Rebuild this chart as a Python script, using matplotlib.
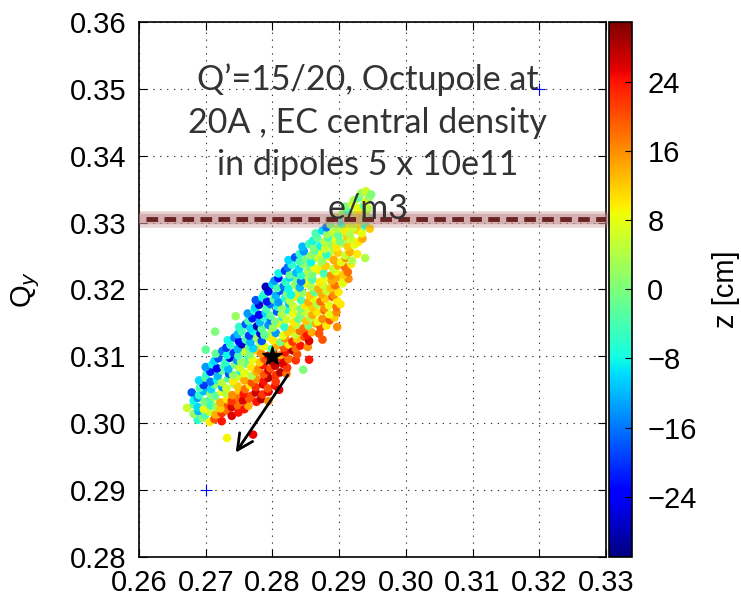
import matplotlib
matplotlib.use("Agg")
import matplotlib.pyplot as plt

# ---------------------------------------------------------------
# Tune footprint: particle tunes (Qx, Qy) coloured by longitudinal
# position z [cm]
# ---------------------------------------------------------------
qx = [
    # Qy ~ 0.3005
    0.2688, 0.2696, 0.2706, 0.2713, 0.2724,
    # Qy ~ 0.3015
    0.2682, 0.2689, 0.2699, 0.2706, 0.2715, 0.2724, 0.2732, 0.2739, 0.2749,
    # Qy ~ 0.3025
    0.2672, 0.2682, 0.2688, 0.2697, 0.2707, 0.2715, 0.2722, 0.2732, 0.2739, 0.2748, 0.2758, 0.2764,
    # Qy ~ 0.3035
    0.2682, 0.2688, 0.2698, 0.2707, 0.2713, 0.2722, 0.2732, 0.2739, 0.2749, 0.2756, 0.2765, 0.2776, 0.2783, 0.2794,
    # Qy ~ 0.3045
    0.2679, 0.2690, 0.2697, 0.2707, 0.2714, 0.2724, 0.2731, 0.2740, 0.2750, 0.2757, 0.2768, 0.2775, 0.2785, 0.2794,
    # Qy ~ 0.3055
    0.2691, 0.2697, 0.2708, 0.2714, 0.2725, 0.2731, 0.2742, 0.2748, 0.2759, 0.2766, 0.2775, 0.2786, 0.2793, 0.2804,
    # Qy ~ 0.3065
    0.2690, 0.2700, 0.2707, 0.2717, 0.2724, 0.2734, 0.2741, 0.2751, 0.2758, 0.2769, 0.2776, 0.2787, 0.2794, 0.2805,
    # Qy ~ 0.3075
    0.2701, 0.2707, 0.2718, 0.2724, 0.2735, 0.2741, 0.2752, 0.2758, 0.2769, 0.2776, 0.2787, 0.2794, 0.2805, 0.2812, 0.2821,
    # Qy ~ 0.3085
    0.2700, 0.2710, 0.2717, 0.2727, 0.2734, 0.2744, 0.2751, 0.2761, 0.2768, 0.2779, 0.2786, 0.2797, 0.2804, 0.2815, 0.2822,
    # Qy ~ 0.3095
    0.2713, 0.2719, 0.2730, 0.2736, 0.2747, 0.2753, 0.2764, 0.2770, 0.2781, 0.2788, 0.2799, 0.2806, 0.2817, 0.2824, 0.2835,
    # Qy ~ 0.3105
    0.2715, 0.2725, 0.2732, 0.2742, 0.2749, 0.2759, 0.2766, 0.2776, 0.2783, 0.2794, 0.2801, 0.2812, 0.2819, 0.2830, 0.2837,
    # Qy ~ 0.3115
    0.2731, 0.2737, 0.2748, 0.2754, 0.2765, 0.2771, 0.2782, 0.2788, 0.2799, 0.2806, 0.2817, 0.2824, 0.2835, 0.2842, 0.2853,
    # Qy ~ 0.3125
    0.2733, 0.2743, 0.2750, 0.2760, 0.2767, 0.2777, 0.2784, 0.2794, 0.2801, 0.2812, 0.2819, 0.2830, 0.2837, 0.2848, 0.2855,
    # Qy ~ 0.3135
    0.2748, 0.2754, 0.2765, 0.2771, 0.2782, 0.2788, 0.2799, 0.2805, 0.2816, 0.2823, 0.2834, 0.2841, 0.2852, 0.2859, 0.2870,
    # Qy ~ 0.3145
    0.2750, 0.2760, 0.2767, 0.2777, 0.2784, 0.2794, 0.2801, 0.2811, 0.2818, 0.2829, 0.2836, 0.2847, 0.2854, 0.2865, 0.2872, 0.2881,
    # Qy ~ 0.3155
    0.2764, 0.2770, 0.2781, 0.2787, 0.2798, 0.2804, 0.2815, 0.2821, 0.2832, 0.2839, 0.2850, 0.2857, 0.2868, 0.2875, 0.2886, 0.2893,
    # Qy ~ 0.3165
    0.2763, 0.2773, 0.2780, 0.2790, 0.2797, 0.2807, 0.2814, 0.2824, 0.2831, 0.2842, 0.2849, 0.2860, 0.2867, 0.2878, 0.2885, 0.2896,
    # Qy ~ 0.3175
    0.2774, 0.2780, 0.2791, 0.2797, 0.2808, 0.2814, 0.2825, 0.2831, 0.2842, 0.2849, 0.2860, 0.2867, 0.2878, 0.2885, 0.2896, 0.2902,
    # Qy ~ 0.3185
    0.2775, 0.2785, 0.2792, 0.2802, 0.2809, 0.2819, 0.2826, 0.2836, 0.2843, 0.2854, 0.2861, 0.2872, 0.2879, 0.2890, 0.2897,
    # Qy ~ 0.3195
    0.2788, 0.2794, 0.2805, 0.2811, 0.2822, 0.2828, 0.2839, 0.2845, 0.2856, 0.2863, 0.2874, 0.2881, 0.2892, 0.2899,
    # Qy ~ 0.3205
    0.2790, 0.2800, 0.2807, 0.2817, 0.2824, 0.2834, 0.2841, 0.2851, 0.2858, 0.2869, 0.2876, 0.2887, 0.2894, 0.2905,
    # Qy ~ 0.3215
    0.2803, 0.2809, 0.2820, 0.2826, 0.2837, 0.2843, 0.2854, 0.2860, 0.2871, 0.2878, 0.2889, 0.2896, 0.2907, 0.2914,
    # Qy ~ 0.3225
    0.2809, 0.2819, 0.2826, 0.2836, 0.2843, 0.2853, 0.2860, 0.2870, 0.2877, 0.2888, 0.2895, 0.2906, 0.2913,
    # Qy ~ 0.3235
    0.2823, 0.2829, 0.2840, 0.2846, 0.2857, 0.2863, 0.2874, 0.2880, 0.2891, 0.2898, 0.2909, 0.2918,
    # Qy ~ 0.3245
    0.2824, 0.2834, 0.2841, 0.2851, 0.2858, 0.2868, 0.2875, 0.2885, 0.2892, 0.2903, 0.2910, 0.2919,
    # Qy ~ 0.3255
    0.2841, 0.2847, 0.2858, 0.2864, 0.2875, 0.2881, 0.2892, 0.2898, 0.2909, 0.2916, 0.2927,
    # Qy ~ 0.3265
    0.2845, 0.2855, 0.2862, 0.2872, 0.2879, 0.2889, 0.2896, 0.2906, 0.2913, 0.2923,
    # Qy ~ 0.3275
    0.2861, 0.2867, 0.2878, 0.2884, 0.2895, 0.2901, 0.2912, 0.2918, 0.2929, 0.2935,
    # Qy ~ 0.3285
    0.2865, 0.2875, 0.2882, 0.2892, 0.2899, 0.2909, 0.2916, 0.2927, 0.2934,
    # Qy ~ 0.3295
    0.2881, 0.2887, 0.2898, 0.2904, 0.2915, 0.2921, 0.2932, 0.2939, 0.2946,
    # Qy ~ 0.3305
    0.2885, 0.2895, 0.2902, 0.2912, 0.2919, 0.2929, 0.2936, 0.2946,
    # Qy ~ 0.3315
    0.2905, 0.2912, 0.2922, 0.2929, 0.2940,
    # Qy ~ 0.3325
    0.2909, 0.2920, 0.2927, 0.2937, 0.2943,
    # Qy ~ 0.3335
    0.2922, 0.2929, 0.2940, 0.2945,
    # Qy ~ 0.3345
    0.2933, 0.2940, 0.2948,
    # outliers
    0.2732, 0.2771, 0.2846, 0.2897, 0.2714, 0.2700, 0.2745, 0.2855, 0.2875, 0.2810, 0.2939,
]

qy = [
    0.3005, 0.3008, 0.3002, 0.3006, 0.3003,
    0.3014, 0.3018, 0.3012, 0.3017, 0.3013, 0.3015, 0.3019, 0.3011, 0.3016,
    0.3023, 0.3028, 0.3024, 0.3021, 0.3027, 0.3025, 0.3022, 0.3029, 0.3024, 0.3027, 0.3021, 0.3026,
    0.3034, 0.3038, 0.3032, 0.3035, 0.3039, 0.3031, 0.3036, 0.3033, 0.3038, 0.3034, 0.3037, 0.3032, 0.3036, 0.3033,
    0.3046, 0.3042, 0.3048, 0.3044, 0.3041, 0.3047, 0.3045, 0.3042, 0.3049, 0.3044, 0.3041, 0.3046, 0.3043, 0.3047,
    0.3053, 0.3057, 0.3051, 0.3058, 0.3054, 0.3052, 0.3059, 0.3055, 0.3051, 0.3057, 0.3054, 0.3058, 0.3052, 0.3056,
    0.3064, 0.3068, 0.3062, 0.3065, 0.3061, 0.3067, 0.3063, 0.3069, 0.3064, 0.3061, 0.3066, 0.3063, 0.3068, 0.3062,
    0.3073, 0.3077, 0.3071, 0.3079, 0.3074, 0.3072, 0.3078, 0.3075, 0.3071, 0.3077, 0.3073, 0.3079, 0.3072, 0.3076, 0.3074,
    0.3084, 0.3088, 0.3082, 0.3085, 0.3081, 0.3087, 0.3083, 0.3089, 0.3084, 0.3081, 0.3087, 0.3082, 0.3086, 0.3089, 0.3083,
    0.3093, 0.3097, 0.3091, 0.3098, 0.3094, 0.3092, 0.3099, 0.3095, 0.3091, 0.3096, 0.3093, 0.3098, 0.3092, 0.3096, 0.3094,
    0.3104, 0.3108, 0.3102, 0.3105, 0.3101, 0.3107, 0.3103, 0.3109, 0.3104, 0.3101, 0.3107, 0.3102, 0.3106, 0.3109, 0.3103,
    0.3113, 0.3117, 0.3111, 0.3118, 0.3114, 0.3112, 0.3119, 0.3115, 0.3111, 0.3116, 0.3113, 0.3118, 0.3112, 0.3116, 0.3114,
    0.3124, 0.3128, 0.3122, 0.3125, 0.3121, 0.3127, 0.3123, 0.3129, 0.3124, 0.3121, 0.3127, 0.3122, 0.3126, 0.3129, 0.3123,
    0.3133, 0.3137, 0.3131, 0.3138, 0.3134, 0.3132, 0.3139, 0.3135, 0.3131, 0.3136, 0.3133, 0.3138, 0.3132, 0.3136, 0.3134,
    0.3144, 0.3148, 0.3142, 0.3145, 0.3141, 0.3147, 0.3143, 0.3149, 0.3144, 0.3141, 0.3147, 0.3142, 0.3146, 0.3149, 0.3143, 0.3146,
    0.3153, 0.3157, 0.3151, 0.3158, 0.3154, 0.3152, 0.3159, 0.3155, 0.3151, 0.3156, 0.3153, 0.3158, 0.3152, 0.3156, 0.3154, 0.3158,
    0.3164, 0.3168, 0.3162, 0.3165, 0.3161, 0.3167, 0.3163, 0.3169, 0.3164, 0.3161, 0.3167, 0.3162, 0.3166, 0.3169, 0.3163, 0.3166,
    0.3173, 0.3177, 0.3171, 0.3178, 0.3174, 0.3172, 0.3179, 0.3175, 0.3171, 0.3176, 0.3173, 0.3178, 0.3172, 0.3176, 0.3174, 0.3178,
    0.3184, 0.3188, 0.3182, 0.3185, 0.3181, 0.3187, 0.3183, 0.3189, 0.3184, 0.3181, 0.3187, 0.3182, 0.3186, 0.3189, 0.3183,
    0.3193, 0.3197, 0.3191, 0.3198, 0.3194, 0.3192, 0.3199, 0.3195, 0.3191, 0.3196, 0.3193, 0.3198, 0.3192, 0.3196,
    0.3204, 0.3208, 0.3202, 0.3205, 0.3201, 0.3207, 0.3203, 0.3209, 0.3204, 0.3201, 0.3207, 0.3202, 0.3206, 0.3209,
    0.3213, 0.3217, 0.3211, 0.3218, 0.3214, 0.3212, 0.3219, 0.3215, 0.3211, 0.3216, 0.3213, 0.3218, 0.3212, 0.3216,
    0.3224, 0.3228, 0.3222, 0.3225, 0.3221, 0.3227, 0.3223, 0.3229, 0.3224, 0.3221, 0.3227, 0.3222, 0.3226,
    0.3233, 0.3237, 0.3231, 0.3238, 0.3234, 0.3232, 0.3239, 0.3235, 0.3231, 0.3236, 0.3233, 0.3238,
    0.3244, 0.3248, 0.3242, 0.3245, 0.3241, 0.3247, 0.3243, 0.3249, 0.3244, 0.3241, 0.3247, 0.3243,
    0.3253, 0.3257, 0.3251, 0.3258, 0.3254, 0.3252, 0.3259, 0.3255, 0.3251, 0.3256, 0.3253,
    0.3264, 0.3268, 0.3262, 0.3265, 0.3261, 0.3267, 0.3263, 0.3269, 0.3264, 0.3267,
    0.3273, 0.3277, 0.3271, 0.3278, 0.3274, 0.3272, 0.3279, 0.3275, 0.3271, 0.3276,
    0.3284, 0.3288, 0.3282, 0.3285, 0.3281, 0.3287, 0.3283, 0.3289, 0.3284,
    0.3293, 0.3297, 0.3291, 0.3298, 0.3294, 0.3292, 0.3299, 0.3295, 0.3291,
    0.3304, 0.3308, 0.3302, 0.3305, 0.3301, 0.3307, 0.3303, 0.3306,
    0.3313, 0.3317, 0.3311, 0.3318, 0.3314,
    0.3324, 0.3328, 0.3322, 0.3325, 0.3321,
    0.3333, 0.3337, 0.3331, 0.3338,
    0.3344, 0.3347, 0.3342,
    0.2978, 0.2983, 0.3080, 0.3144, 0.3137, 0.3110, 0.3160, 0.3095, 0.3125, 0.3050, 0.3247,
]

z_cm = [
    -6, 2, 10, 20, 24,
    2, -12, -4, 6, 14, 22, 18, 26, 24,
    6, -2, -10, 8, -6, 2, 12, 20, 26, 18, 24, 14,
    -8, -14, 0, -4, 6, 14, 10, 22, 18, 26, 20, 24, 28, 16,
    -18, -6, -12, 2, -2, 8, 4, 16, 12, 24, 20, 27, 22, 25,
    -4, -20, -10, 0, -14, 6, 2, 12, 18, 10, 22, 26, 20, 24,
    -10, -2, -16, -8, 4, -4, 10, 6, 14, 20, 16, 24, 28, 22,
    -6, -22, -12, -2, -18, 2, -8, 8, 4, 14, 20, 26, 22, 28, 18,
    -14, -8, -24, -4, -12, 0, 6, -2, 10, 16, 24, 20, 27, 25, 22,
    -10, -18, -6, -26, -14, 2, -4, 8, 12, 20, 28, 24, 26, 18, 22,
    -2, -16, -8, -20, -4, 6, 0, 12, 16, 26, 22, 14, 24, 28, 20,
    -20, -6, -12, -28, -2, -10, 4, 8, -4, 14, 20, 10, 18, 24, 16,
    -8, -16, -24, -4, -12, 2, -18, 6, 10, 0, 16, 22, 12, 20, 26,
    -12, -4, -20, -8, -26, -2, 4, -14, 8, 12, 6, 18, 24, 14, 20,
    -6, -18, -10, -28, -2, -14, 2, 8, -6, 12, 4, 18, 0, 14, 20, 10,
    -4, -22, -12, -6, -16, 0, -8, 6, 10, -2, 12, 4, 8, 16, 20, 12,
    -14, -6, -24, -10, -2, -18, 4, -6, 8, 0, 6, 14, 10, 20, 8, 16,
    -10, -26, -4, -16, -8, 2, -12, 6, 0, 10, 12, 4, 16, 8, 18, 10,
    -18, -8, -22, -2, -14, -6, 4, 10, -4, 14, 8, 18, 12, 20, 10,
    -6, -24, -12, -18, 0, -8, 6, 2, 12, -2, 14, 6, 16, 10,
    -28, -10, -4, -16, -8, 2, -12, 8, 4, 14, 6, 12, 18, 8,
    -14, -22, -6, -10, 0, -16, 4, -4, 10, 8, 14, 14, 8, 16,
    -8, -20, -2, -12, -6, 4, 0, 10, -4, 16, 8, 12, 18,
    -16, -6, -10, 2, -2, 8, 4, 12, 6, 14, 18, 10,
    -10, -18, -4, 0, -8, 6, 2, 10, 14, 8, 16, 4,
    -6, -14, 2, -2, 8, -6, 4, 12, 6, 14, 10,
    -12, -4, 0, -8, 6, 2, 10, 4, 12, 8,
    -8, -2, 4, -6, 8, 0, 12, 6, 10, 14,
    -4, -10, 2, 6, -2, 10, 4, 12, 8,
    -16, 0, 4, -2, 8, 6, 10, -6, 12,
    -2, 4, -8, 8, 6, 12, 2, -4,
    2, -4, 6, 10, 4,
    0, 6, 8, -2, 4,
    4, -2, 8, 2,
    2, 6, 0,
    9, 25, 0, 16, 0, -2, 2, 24, 20, 26, 4,
]

# working point, reference tunes and resonance line
work_qx, work_qy = [0.28], [0.31]
ref_qx, ref_qy = [0.27, 0.32], [0.29, 0.35]
resonance_qy = 0.3305
shift_start = (0.2823, 0.3072)
shift_end = (0.2745, 0.2956)

xticks = [0.26, 0.27, 0.28, 0.29, 0.30, 0.31, 0.32, 0.33]
yticks = [0.28, 0.29, 0.30, 0.31, 0.32, 0.33, 0.34, 0.35, 0.36]
cticks = [-24, -16, -8, 0, 8, 16, 24]
z_range = (-31, 31)

note = "Q\u2019=15/20, Octupole at\n20A , EC central density\nin dipoles 5 x 10e11\ne/m3"

tick_font = "Liberation Sans"
tick_size = 21

fig = plt.figure(figsize=(7.41, 6.13), dpi=100)
ax = fig.add_axes([0.1876, 0.0914, 0.6302, 0.8728])
cax = fig.add_axes([0.8219, 0.0914, 0.0310, 0.8728])

ax.set_xlim(0.26, 0.33)
ax.set_ylim(0.28, 0.36)
ax.set_xticks(xticks)
ax.set_yticks(yticks)
ax.set_xticklabels([f"{v:.2f}" for v in xticks])
ax.set_yticklabels([f"{v:.2f}" for v in yticks])
ax.grid(True, linestyle=(0, (1.2, 5)), color="#333333", linewidth=0.8)
ax.set_axisbelow(True)
ax.tick_params(direction="in", length=6, width=0.8, top=True, right=True,
               labelsize=tick_size, pad=9)
for lab in ax.get_xticklabels() + ax.get_yticklabels():
    lab.set_family(tick_font)
for sp in ax.spines.values():
    sp.set_linewidth(1.2)

sc = ax.scatter(qx, qy, c=z_cm, cmap="jet", vmin=z_range[0], vmax=z_range[1],
                s=38, linewidths=0, zorder=2)

# resonance line with soft halo
ax.axhline(resonance_qy, xmin=0, xmax=1.012, color="#b87878", alpha=0.3,
           lw=12, clip_on=False, zorder=3, solid_capstyle="butt")
ax.axhline(resonance_qy, xmin=0, xmax=1.012, color="#c48c8c", alpha=0.5,
           lw=7.5, clip_on=False, zorder=3, solid_capstyle="butt")
ax.axhline(resonance_qy, xmin=0.015, xmax=1.0, color="#6a2424", lw=3.5,
           dashes=(2.4, 1.3), zorder=3.1)

ax.plot(work_qx, work_qy, "*", color="black", ms=15, zorder=4)
ax.annotate("", xy=shift_end, xytext=shift_start,
            arrowprops=dict(arrowstyle="->", lw=2, color="black",
                            mutation_scale=28, shrinkA=0, shrinkB=0),
            zorder=4)

ax.text(0.2943, 0.3418, note, ha="center", va="center", multialignment="center",
        fontsize=24.5, family=["Lato", "DejaVu Sans"], color="#333333",
        linespacing=1.42, zorder=5)
ax.plot(ref_qx, ref_qy, "+", color="blue", ms=8, mew=0.8, zorder=6)

ax.set_ylabel("Q$_y$", fontsize=21, family=tick_font)
ax.yaxis.set_label_coords(-0.208, 0.5)

cb = fig.colorbar(sc, cax=cax, ticks=cticks)
cb.outline.set_linewidth(1.2)
cax.tick_params(direction="in", length=5, width=0.8, labelsize=tick_size, pad=11,
                right=True, left=False)
cax.set_yticklabels([f"{v:d}".replace("-", "\u2212") for v in cticks])
for lab in cax.get_yticklabels():
    lab.set_family(tick_font)
cb.set_label("z [cm]", fontsize=21, family=tick_font, rotation=90)
cax.yaxis.set_label_coords(4.48, 0.5)

fig.savefig("out.png", dpi=100)
